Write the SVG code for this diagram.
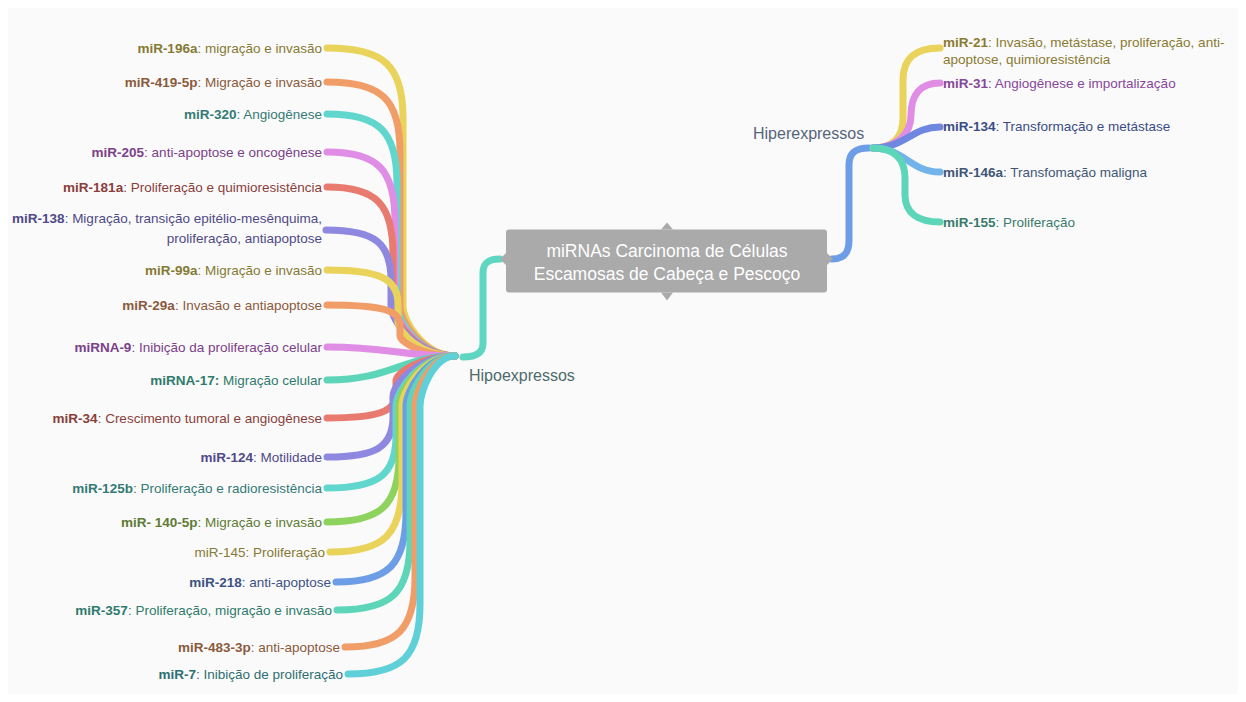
<svg xmlns="http://www.w3.org/2000/svg" width="1246" height="702" viewBox="0 0 1246 702">
<style>
.lbl{font-family:"Liberation Sans",Arial,sans-serif;font-size:13.5px}
.b{font-weight:bold}
.br{fill:none;stroke-width:7;stroke-linecap:round}
.hub{font-family:"Liberation Sans",Arial,sans-serif;font-size:16px}
.ctr{font-family:"Liberation Sans",Arial,sans-serif;font-size:17.5px;fill:#ffffff;text-anchor:middle}
.yl{stroke:#e9d35b}.or{stroke:#f09d68}.tq{stroke:#61d6cd}.pk{stroke:#e08de6}.rd{stroke:#e87a70}.pu{stroke:#8f88e0}.tg{stroke:#5dd5b9}.gr{stroke:#8fd35f}.bl{stroke:#6d9de6}.cy{stroke:#5fd0d8}.db{stroke:#6f87e0}.lb{stroke:#72b3ea}
</style>
<rect x="0" y="0" width="1246" height="702" fill="#ffffff"/>
<rect x="8" y="8" width="1230" height="686" fill="#fafafa"/>

<g id="connectors">
  <path class="br" stroke="#5fd6c2" d="M500,259 C488,259 483,263 483,273 L483,343 C483,353 476,357 463,357"/>
  <path class="br" stroke="#6d9de6" d="M832,259 C845,259 849,252 849,240 L849,165 C849,153 855,148 869,148"/>
  <path class="br yl" d="M327,48 C384,48 403,65.5 403,118 L403,306 C403,321 424,356 455,356"/>
  <path class="br or" d="M327,82 C382,82 400,99.5 400,152 L400,306 C400,321 422,356 455,356"/>
  <path class="br tq" d="M327,114 C379.5,114 397,131.5 397,184 L397,306 C397,321 420,356 455,356"/>
  <path class="br pk" d="M327,152 C378,152 395,169.5 395,222 L395,306 C395,321 419,356 455,356"/>
  <path class="br rd" d="M327,187 C376.5,187 393,204 393,254.6 L393,306 C393,321 418,356 455,356"/>
  <path class="br pu" d="M326,230 C374.75,230 391,242.6 391,280.4 L391,306 C391,321 416.6,356 455,356"/>
  <path class="br yl" d="M327,270 C380,270 398,278.6 398,304.4 L398,321.6 C398,332 420.8,356 455,356"/>
  <path class="br or" d="M327,305 C382,305 400,310 400,325.4 L400,335.6 C400,341.7 422,356 455,356"/>
  <path class="br pk" d="M327,347 C390,347 400,356 455,356"/>
  <path class="br tg" d="M327,380 C392,380 402,356 455,356"/>
  <path class="br rd" d="M327,418 C378.75,418 396,411.8 396,393.2 L396,380.8 C396,373.4 419.6,356 455,356"/>
  <path class="br pu" d="M327,457 C376.5,457 393,447 393,416.6 L393,396.4 C393,384.3 417.8,356 455,356"/>
  <path class="br tq" d="M327,488 C378.75,488 396,474.8 396,435.2 L396,406 C396,391 419.6,356 455,356"/>
  <path class="br gr" d="M327,522 C381,522 399,505.4 399,455.6 L399,406 C399,391 421.4,356 455,356"/>
  <path class="br yl" d="M330,552 C384,552 402,534.5 402,482 L402,406 C402,391 423.2,356 455,356"/>
  <path class="br bl" d="M336,582 C388.5,582 406,564.5 406,512 L406,406 C406,391 425.6,356 455,356"/>
  <path class="br tg" d="M337,610 C391.75,610 410,592.5 410,540 L410,406 C410,391 428,356 455,356"/>
  <path class="br or" d="M345,647 C397.5,647 415,629.5 415,577 L415,406 C415,391 431,356 455,356"/>
  <path class="br cy" d="M348,674 C402,674 420,656.5 420,604 L420,406 C420,391 434,356 455,356"/>
  <path class="br yl" d="M873,148 C893,148 903,138 903,118 L903,80 C903,58 915,48 940,48"/>
  <path class="br pk" d="M873,148 C895,148 911,135 911,115 C911,95 920,83 940,83"/>
  <path class="br db" d="M873,148 C905,148 912,127 940,127"/>
  <path class="br lb" d="M873,148 C905,148 910,172 940,172"/>
  <path class="br tg" d="M873,148 C893,148 905,158 905,178 L905,195 C905,213 918,222 940,222"/>
</g>

<g id="center">
  <rect x="506" y="229.5" width="321" height="63" rx="3" fill="#aaaaaa"/>
  <path d="M661,229.5 L667,222.5 L673,229.5 Z M661,292.5 L667,300.5 L673,292.5 Z M506,253 L500,259 L506,265 Z M827,253 L833,259 L827,265 Z" fill="#aaaaaa"/>
  <text class="ctr" x="667" y="257">miRNAs Carcinoma de Células</text>
  <text class="ctr" x="667" y="280">Escamosas de Cabeça e Pescoço</text>
</g>

<g id="hipoexpressos"><text class="hub" x="469" y="381" fill="#4d6b6b">Hipoexpressos</text></g>
<g id="hiperexpressos"><text class="hub" x="753" y="139" fill="#56657a">Hiperexpressos</text></g>

<g id="left-leaves" class="lbl" text-anchor="end">
  <g id="miR-196a"><text x="322" y="53" fill="#857a35"><tspan class="b">miR-196a</tspan>: migração e invasão</text></g>
  <g id="miR-419-5p"><text x="322" y="87" fill="#8a5a3c"><tspan class="b">miR-419-5p</tspan>: Migração e invasão</text></g>
  <g id="miR-320"><text x="322" y="119" fill="#357a75"><tspan class="b">miR-320</tspan>: Angiogênese</text></g>
  <g id="miR-205"><text x="322" y="157" fill="#7b4189"><tspan class="b">miR-205</tspan>: anti-apoptose e oncogênese</text></g>
  <g id="miR-181a"><text x="322" y="192" fill="#8a3e3a"><tspan class="b">miR-181a</tspan>: Proliferação e quimioresistência</text></g>
  <g id="miR-138"><text x="322" y="223" fill="#4f4a85"><tspan class="b">miR-138</tspan>: Migração, transição epitélio-mesênquima,</text><text x="322" y="243" fill="#4f4a85">proliferação, antiapoptose</text></g>
  <g id="miR-99a"><text x="322" y="275" fill="#857a35"><tspan class="b">miR-99a</tspan>: Migração e invasão</text></g>
  <g id="miR-29a"><text x="322" y="310" fill="#8a5a3c"><tspan class="b">miR-29a</tspan>: Invasão e antiapoptose</text></g>
  <g id="miRNA-9"><text x="322" y="352" fill="#7b4189"><tspan class="b">miRNA-9</tspan>: Inibição da proliferação celular</text></g>
  <g id="miRNA-17"><text x="322" y="385" fill="#2f7a6c"><tspan class="b">miRNA-17:</tspan> Migração celular</text></g>
  <g id="miR-34"><text x="322" y="423" fill="#8a3e3a"><tspan class="b">miR-34</tspan>: Crescimento tumoral e angiogênese</text></g>
  <g id="miR-124"><text x="322" y="462" fill="#4f4a8a"><tspan class="b">miR-124</tspan>: Motilidade</text></g>
  <g id="miR-125b"><text x="322" y="493" fill="#357a75"><tspan class="b">miR-125b</tspan>: Proliferação e radioresistência</text></g>
  <g id="miR-140-5p"><text x="322" y="527" fill="#5f7a35"><tspan class="b">miR- 140-5p</tspan>: Migração e invasão</text></g>
  <g id="miR-145"><text x="325" y="557" fill="#857a35">miR-145: Proliferação</text></g>
  <g id="miR-218"><text x="331" y="587" fill="#3d5283"><tspan class="b">miR-218</tspan>: anti-apoptose</text></g>
  <g id="miR-357"><text x="332" y="615" fill="#2f7a6c"><tspan class="b">miR-357</tspan>: Proliferação, migração e invasão</text></g>
  <g id="miR-483-3p"><text x="340" y="652" fill="#8a5a3c"><tspan class="b">miR-483-3p</tspan>: anti-apoptose</text></g>
  <g id="miR-7"><text x="343" y="679" fill="#2f6e72"><tspan class="b">miR-7</tspan>: Inibição de proliferação</text></g>
</g>

<g id="right-leaves" class="lbl">
  <g id="miR-21"><text x="943" y="47" fill="#8a7b32"><tspan class="b">miR-21</tspan>: Invasão, metástase, proliferação, anti-</text><text x="943" y="64" fill="#8a7b32">apoptose, quimioresistência</text></g>
  <g id="miR-31"><text x="943" y="88" fill="#86489a"><tspan class="b">miR-31</tspan>: Angiogênese e importalização</text></g>
  <g id="miR-134"><text x="943" y="131" fill="#3b4d86"><tspan class="b">miR-134</tspan>: Transformação e metástase</text></g>
  <g id="miR-146a"><text x="943" y="177" fill="#3f5675"><tspan class="b">miR-146a</tspan>: Transfomação maligna</text></g>
  <g id="miR-155"><text x="943" y="227" fill="#3a7a6d"><tspan class="b">miR-155</tspan>: Proliferação</text></g>
</g>
</svg>
